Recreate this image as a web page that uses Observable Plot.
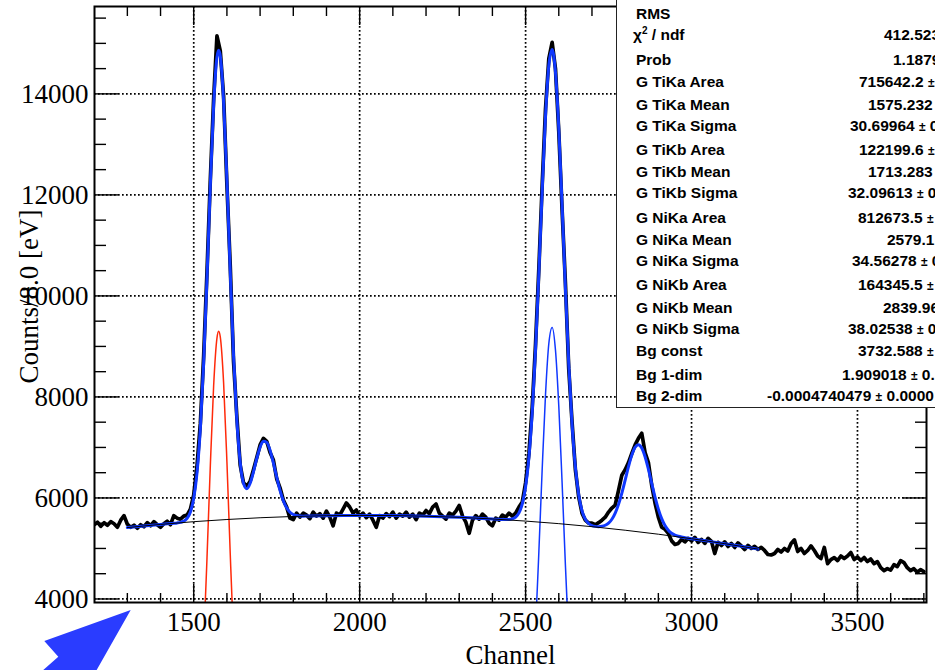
<!DOCTYPE html>
<html><head><meta charset="utf-8">
<script src="https://cdn.jsdelivr.net/npm/d3@7"></script>
<script src="https://cdn.jsdelivr.net/npm/@observablehq/plot@0.6"></script>
<style>
html,body{margin:0;padding:0;background:#fff;}
#wrap{position:relative;width:935px;height:670px;overflow:hidden;background:#fff;}
#wrap > svg{position:absolute;left:0;top:0;}
</style></head><body><div id="wrap"></div>
<script>
// ---------------- data ----------------
const histStart = 1200, histStep = 10;   // channel of first bin, bin spacing
const histCounts = [
  /*1200*/ 5470,5520,5440,5510,5460,5530,5490,5420,5560,5650,
  /*1300*/ 5480,5420,5460,5400,5470,5430,5510,5450,5530,5470,
  /*1400*/ 5420,5490,5540,5470,5650,5600,5580,5640,5660,5780,
  /*1500*/ 6060,6640,7480,8820,10480,12300,13900,15150,14850,13950,
  /*1600*/ 12200,10600,8700,7600,6650,6300,6230,6330,6560,6800,
  /*1700*/ 7050,7180,7120,6900,6750,6380,6200,5960,5820,5600,
  /*1800*/ 5570,5700,5620,5700,5660,5590,5720,5640,5690,5600,
  /*1900*/ 5740,5620,5450,5700,5660,5780,5900,5820,5700,5760,
  /*2000*/ 5640,5700,5610,5680,5560,5420,5650,5600,5690,5630,
  /*2100*/ 5720,5600,5680,5640,5720,5620,5680,5570,5700,5660,
  /*2200*/ 5750,5690,5820,5880,5700,5640,5580,5700,5660,5740,
  /*2300*/ 5850,5640,5520,5300,5560,5650,5580,5680,5620,5500,
  /*2400*/ 5450,5600,5560,5660,5620,5700,5640,5700,5820,5920,
  /*2500*/ 6300,6880,7800,9050,10550,12200,13700,14700,15020,14500,
  /*2600*/ 13250,11700,10250,8560,7500,6560,6020,5700,5560,5500,
  /*2700*/ 5500,5470,5510,5560,5620,5720,5800,5860,6150,6450,
  /*2800*/ 6560,6700,6880,7050,7180,7280,6900,6700,6250,5900,
  /*2900*/ 5620,5420,5380,5300,5150,5080,5100,5180,5130,5200,
  /*3000*/ 5150,5220,5120,5180,5100,5200,5140,4900,5120,5060,
  /*3100*/ 5130,5040,5100,5020,5110,5050,4980,5060,5000,5040,
  /*3200*/ 4980,5020,4960,4880,4870,4900,4980,4930,5000,4950,
  /*3300*/ 5100,5170,4940,5000,4900,4960,5050,4960,4850,4800,
  /*3400*/ 5020,4700,4780,4820,4760,4850,4800,4850,4920,4780,
  /*3500*/ 4830,4760,4820,4740,4790,4700,4740,4620,4560,4600,
  /*3600*/ 4570,4680,4640,4760,4720,4620,4560,4600,4530,4580,
  /*3700*/ 4540
];

// total fit (thick blue)
const fitChannels = [1300,1350,1400,1420,1440,1450,1460,1470,1480,1490,1500,1510,1520,1530,1540,1550,1560,1570,1575,1580,1590,1600,1610,1620,1630,1640,1650,1660,1670,1680,1690,1700,1710,1720,1730,1740,1750,1760,1770,1780,1790,1800,1810,1820,1830,1840,1850,1900,1950,2000,2050,2100,2150,2200,2250,2300,2350,2400,2420,2440,2450,2460,2470,2480,2490,2500,2510,2520,2530,2540,2550,2560,2570,2580,2590,2600,2610,2620,2630,2640,2650,2660,2670,2680,2690,2700,2710,2720,2730,2740,2750,2760,2770,2780,2790,2800,2810,2820,2830,2840,2850,2860,2870,2880,2890,2900,2910,2920,2930,2940,2950,2960,2970,2980,2990,3000,3050,3100,3150,3200];
const fitCounts = [5413,5446,5476,5488,5499,5506,5517,5541,5595,5722,5992,6507,7383,8685,10362,12188,13780,14727,14863,14753,13853,12292,10483,8814,7532,6704,6289,6184,6290,6517,6782,7004,7123,7100,6942,6693,6412,6151,5945,5804,5718,5673,5651,5643,5640,5641,5642,5648,5653,5654,5654,5651,5646,5638,5628,5616,5601,5584,5576,5571,5573,5585,5620,5704,5884,6223,6805,7701,8940,10461,12090,13558,14565,14879,14426,13310,11784,10145,8651,7459,6609,6064,5746,5577,5494,5454,5437,5432,5438,5459,5502,5579,5701,5873,6096,6354,6618,6848,7004,7055,6988,6816,6569,6289,6015,5778,5590,5453,5361,5302,5265,5242,5226,5214,5203,5193,5145,5095,5042,4987];

// background component (thin black)
const bgChannels = [1300,1400,1500,1600,1700,1800,1900,2000,2100,2200,2300,2400,2500,2600,2700,2800,2900,3000,3100,3200];
const bgCounts   = [5413,5476,5530,5573,5608,5633,5648,5654,5651,5638,5616,5584,5542,5491,5431,5361,5282,5193,5095,4987];

// TiKa gaussian component (thin red)
const tiKaChannels = [1490,1500,1510,1520,1530,1540,1550,1560,1570,1575,1580,1590,1600,1610,1620,1630,1640,1650,1660];
const tiKaCounts   = [197,462,973,1844,3141,4814,6635,8223,9166,9300,9188,8284,6716,4897,3211,1894,1004,479,206];

// NiKa gaussian component (thin blue)
const niKaChannels = [2490,2500,2510,2520,2530,2540,2550,2560,2570,2580,2590,2600,2610,2620,2630,2640,2650,2660,2670];
const niKaCounts   = [337,681,1267,2168,3412,4938,6572,8045,9057,9377,8929,7819,6298,4665,3177,1991,1147,608,296];

// axis ticks
const xMajor = [1500, 2000, 2500, 3000, 3500];
const yMajor = [4000, 6000, 8000, 10000, 12000, 14000];
const xTitle = "Channel";
const yTitle = "Counts/8.0 [eV]";

// stats box
const statLabels = ["RMS","χ2 / ndf","Prob","G TiKa Area","G TiKa Mean","G TiKa Sigma","G TiKb Area","G TiKb Mean","G TiKb Sigma","G NiKa Area","G NiKa Mean","G NiKa Sigma","G NiKb Area","G NiKb Mean","G NiKb Sigma","Bg const","Bg 1-dim","Bg 2-dim"];
const statValues = ["","412.523","1.1879","715642.2 ±","1575.232","30.69964 ± 0","122199.6 ±","1713.283","32.09613 ± 0","812673.5 ±","2579.1","34.56278 ± 0","164345.5 ±","2839.96","38.02538 ± 0","3732.588 ±","1.909018 ± 0.","-0.0004740479 ± 0.0000"];

// ---------------- build ----------------
const hist = histCounts.map((c, i) => ({x: histStart + i * histStep, y: c}));
const zip = (xs, ys) => xs.map((x, i) => ({x, y: ys[i]}));
const fit = zip(fitChannels, fitCounts);
const bg = zip(bgChannels, bgCounts);
const tiKa = zip(tiKaChannels, tiKaCounts);
const niKa = zip(niKaChannels, niKaCounts);

const xMinor = d3.range(1300, 3701, 100).filter(v => !xMajor.includes(v));
const yMinor = d3.range(4500, 15501, 500).filter(v => !yMajor.includes(v));
const fmt = d => String(d);
const dots = {stroke: "black", strokeOpacity: 1, strokeWidth: 1.7, strokeDasharray: "1.7,2.3"};
const FIT_BLUE = "#1038ff";

const chart = Plot.plot({
  width: 935, height: 670,
  marginLeft: 94, marginRight: 9, marginTop: 6, marginBottom: 68,
  style: {fontFamily: "'Liberation Serif', 'Times New Roman', serif", fontSize: "27px", color: "black", background: "transparent"},
  x: {domain: [1201, 3708]},
  y: {domain: [3930, 15730]},
  marks: [
    Plot.gridX(xMajor, dots),
    Plot.gridY(yMajor, dots),
    Plot.line(hist, {x: "x", y: "y", stroke: "black", strokeWidth: 3.7, clip: true}),
    Plot.line(fit, {x: "x", y: "y", stroke: FIT_BLUE, strokeWidth: 3, curve: "monotone-x", clip: true}),
    Plot.line(tiKa, {x: "x", y: "y", stroke: "#ff2a0a", strokeWidth: 1.5, curve: "monotone-x", clip: true}),
    Plot.line(niKa, {x: "x", y: "y", stroke: FIT_BLUE, strokeWidth: 1.5, curve: "monotone-x", clip: true}),
    Plot.line(bg, {x: "x", y: "y", stroke: "black", strokeWidth: 1, curve: "natural", clip: true}),
    // ticks (inward)
    Plot.axisX(xMajor, {anchor: "bottom", tickSize: -18, fill: "none", label: null, strokeWidth: 1.4}),
    Plot.axisX(xMinor, {anchor: "bottom", tickSize: -9, fill: "none", label: null, strokeWidth: 1.4}),
    Plot.axisX(xMajor, {anchor: "top", tickSize: -18, fill: "none", label: null, strokeWidth: 1.4}),
    Plot.axisX(xMinor, {anchor: "top", tickSize: -9, fill: "none", label: null, strokeWidth: 1.4}),
    Plot.axisY(yMajor, {anchor: "left", tickSize: -24, fill: "none", label: null, strokeWidth: 1.4}),
    Plot.axisY(yMinor, {anchor: "left", tickSize: -12, fill: "none", label: null, strokeWidth: 1.4}),
    Plot.axisY(yMajor, {anchor: "right", tickSize: -24, fill: "none", label: null, strokeWidth: 1.4}),
    Plot.axisY(yMinor, {anchor: "right", tickSize: -12, fill: "none", label: null, strokeWidth: 1.4}),
    // tick labels
    Plot.axisX(xMajor, {anchor: "bottom", tickSize: 0, tickPadding: 9, tickFormat: fmt, label: null, fontSize: 27}),
    Plot.axisY(yMajor, {anchor: "left", tickSize: 0, tickPadding: 6, tickFormat: fmt, label: null, fontSize: 27}),
    Plot.frame({stroke: "black", strokeWidth: 2}),
    // titles
    Plot.text([xTitle], {text: d => d, frameAnchor: "bottom", dy: 61, lineAnchor: "bottom", fontSize: 27}),
    Plot.text([yTitle], {text: d => d, frameAnchor: "left", textAnchor: "middle", rotate: -90, dx: -57, dy: -8, lineAnchor: "bottom", fontSize: 27})
  ]
});
const wrap = document.getElementById("wrap");
wrap.appendChild(chart);

// ---------------- stats box + arrow overlay ----------------
const NS = "http://www.w3.org/2000/svg";
const ov = document.createElementNS(NS, "svg");
ov.setAttribute("width", 935); ov.setAttribute("height", 670);
ov.style.position = "absolute"; ov.style.left = "0"; ov.style.top = "0";
wrap.appendChild(ov);
const el = (tag, attrs, parent) => { const e = document.createElementNS(NS, tag); for (const k in attrs) e.setAttribute(k, attrs[k]); (parent || ov).appendChild(e); return e; };

el("rect", {x: 616.5, y: -5, width: 420, height: 412.5, fill: "white", stroke: "#222", "stroke-width": 1});
const baselines = [19,40,65,87,110,131,155,177,198,223,245,266,290,313,334,356,380,401];
const valueX = [0,884,893,859,868,850,859,868,848,858,887,852,858,883,848,858,842,767];
const g = el("g", {"font-family": "'Liberation Sans', Arial, Helvetica, sans-serif", "font-weight": "bold", "font-size": "15.5px", fill: "black"});
statLabels.forEach((lab, i) => {
  const t = el("text", {x: lab.startsWith("χ") ? 633 : 636, y: baselines[i]}, g);
  if (lab.startsWith("χ2")) {
    t.appendChild(document.createTextNode("χ"));
    const s = el("tspan", {"font-size": "10px", dy: -6}, t); s.textContent = "2";
    const r = el("tspan", {dy: 6}, t); r.textContent = " / ndf";
  } else t.textContent = lab;
  const v = statValues[i];
  if (!v) return;
  const tv = el("text", {x: valueX[i], y: baselines[i]}, g);
  const parts = v.split("±");
  parts.forEach((p, j) => {
    const sp = el("tspan", {}, tv); sp.textContent = p;
    if (j < parts.length - 1) { const pm = el("tspan", {"font-size": "12px"}, tv); pm.textContent = "±"; }
  });
});
// blue pointer arrow in the lower-left corner
el("polygon", {points: "130.7,610 44.3,641 58.3,656.7 37.6,675 93.8,675", fill: "#2a3cff"});
</script></body></html>
